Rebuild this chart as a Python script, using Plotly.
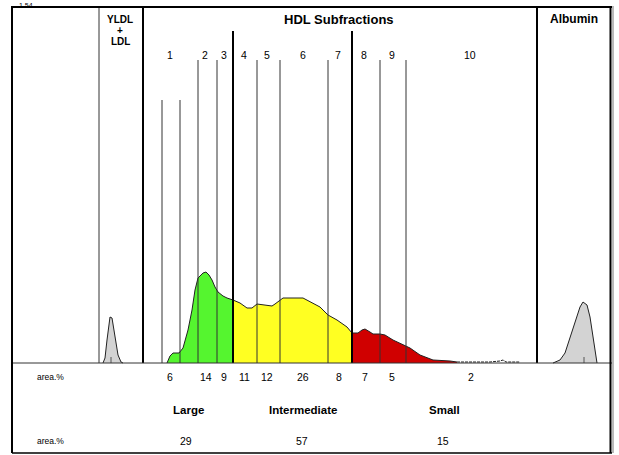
import plotly.graph_objects as go

# ---- data (x: migration position, y: density) ----
vldl_x = [91, 93, 95, 97, 98, 100, 102, 104, 106, 109, 111]
vldl_y = [0, 5, 23, 43, 46, 45, 33, 18, 8, 1, 0]

large_x = [155, 158, 161, 167, 171, 176, 180, 183, 186, 191, 194, 197, 200, 203, 206, 211, 215, 221]
large_y = [0, 7, 10, 10, 15, 33, 53, 73, 85, 90, 91, 88, 83, 76, 71, 67, 65, 63]

inter_x = [221, 228, 235, 240, 245, 251, 256, 260, 263, 268, 271, 291, 298, 308, 316, 325, 335, 340]
inter_y = [63, 60, 55, 55, 59, 58, 57, 57, 59, 63, 65, 65, 61, 56, 48, 43, 36, 30]

small_x = [340, 346, 350, 353, 358, 361, 368, 373, 381, 391, 398, 408, 415, 421, 438, 445]
small_y = [30, 30, 33, 34, 31, 29, 29, 28, 23, 18, 15, 8, 5, 3, 2, 1]

tail_x = [445, 458, 468, 478, 488, 491, 494, 508]
tail_y = [1, 1, 1.5, 1, 2, 3, 1, 1]

alb_x = [541, 543, 548, 553, 558, 563, 568, 571, 575, 578, 581, 583, 585]
alb_y = [0, 1, 3, 10, 26, 41, 56, 61, 58, 46, 26, 10, 0]

# fraction boundaries: (position, top, thick)
bounds_x = [87, 131, 150, 168, 186, 205, 221, 245, 268, 316, 340, 368, 394, 525]
bounds_top = [356, 356, 100, 100, 60, 60, 31, 60, 60, 60, 31, 60, 60, 356]
bounds_thick = [False, True, False, False, False, False, True, False, False, False, True, False, False, True]

sub_labels = ["1", "2", "3", "4", "5", "6", "7", "8", "9", "10"]
sub_label_x = [158, 193, 212, 232, 255, 291, 326, 352, 380, 458]
sub_area = ["6", "14", "9", "11", "12", "26", "8", "7", "5", "2"]
sub_area_x = [158, 194, 212, 232, 255, 291, 327, 353, 380, 459]

group_names = ["Large", "Intermediate", "Small"]
group_x = [176, 291, 432]
group_area = ["29", "57", "15"]
group_area_x = [174, 290, 431]

BASE = 363  # pixel row of baseline in frame units
fig = go.Figure()

outline = "#222222"
def area(x, y, color):
    fig.add_trace(go.Scatter(x=x, y=y, mode="lines", fill="tozeroy",
                             fillcolor=color, line=dict(color=outline, width=1),
                             hoverinfo="skip", showlegend=False))

area(vldl_x, vldl_y, "#D3D3D3")
area(large_x, large_y, "#55F52F")
area(inter_x, inter_y, "#FFFF22")
area(small_x, small_y, "#D00000")
fig.add_trace(go.Scatter(x=tail_x, y=tail_y, mode="lines",
                         line=dict(color=outline, width=1, dash="3px,1px"),
                         hoverinfo="skip", showlegend=False))
area(alb_x, alb_y, "#D3D3D3")

shapes = []
for bx, top, thick in zip(bounds_x, bounds_top, bounds_thick):
    shapes.append(dict(type="line", x0=bx, x1=bx, y0=0, y1=BASE - top if top != 356 else 356,
                       line=dict(color="black" if thick else "#333333", width=2 if thick else 1)))
# small peak markers
shapes.append(dict(type="line", x0=99, x1=99, y0=0, y1=6, line=dict(color="#555", width=1)))
shapes.append(dict(type="line", x0=572, x1=572, y0=0, y1=6, line=dict(color="#555", width=1)))
# baseline
shapes.append(dict(type="line", x0=0, x1=600, y0=0, y1=0, line=dict(color="#333", width=1)))
# frame
shapes.append(dict(type="line", x0=0, x1=600, y0=356, y1=356, line=dict(color="black", width=2)))
shapes.append(dict(type="line", x0=0, x1=0, y0=-90, y1=357, line=dict(color="black", width=2)))
shapes.append(dict(type="line", x0=598.5, x1=598.5, y0=-90, y1=357, line=dict(color="black", width=2)))
shapes.append(dict(type="line", x0=601, x1=601, y0=-90, y1=357, line=dict(color="#777", width=1)))
shapes.append(dict(type="line", x0=0, x1=600, y0=-90, y1=-90, line=dict(color="black", width=1.5)))

ann = []
def txt(x, y, s, size=10, bold=False, yref="y", yanchor="middle"):
    ann.append(dict(x=x, y=y, yref=yref, text=("<b>%s</b>" % s) if bold else s, showarrow=False,
                    xanchor="center", yanchor=yanchor,
                    font=dict(family="Liberation Sans, Arial", size=size, color="black")))

txt(327, 344, "HDL Subfractions", 13, True)
txt(562, 344, "Albumin", 12, True)
txt(108, 344, "YLDL", 10, True)
txt(108, 333, "+", 10, True)
txt(108, 322, "LDL", 10, True)
for s, x in zip(sub_labels, sub_label_x):
    txt(x, 308, s, 10.5)
txt(38, -14, "area.%", 8.5)
for s, x in zip(sub_area, sub_area_x):
    txt(x, -14, s, 10.5)
for s, x in zip(group_names, group_x):
    txt(x, -47, s, 11.5, True)
txt(38, -78, "area.%", 8.5)
for s, x in zip(group_area, group_area_x):
    txt(x, -78, s, 10.5)
txt(14, 1.0108, "1.54", 7, yref="paper", yanchor="top")

fig.update_layout(
    width=619, height=455,
    margin=dict(l=10, r=5, t=5, b=0),
    paper_bgcolor="white", plot_bgcolor="white",
    xaxis=dict(range=[-2, 602], visible=False, fixedrange=True),
    yaxis=dict(range=[-92, 358], visible=False, fixedrange=True),
    shapes=shapes, annotations=ann, showlegend=False,
)
fig.write_html("out.html")
